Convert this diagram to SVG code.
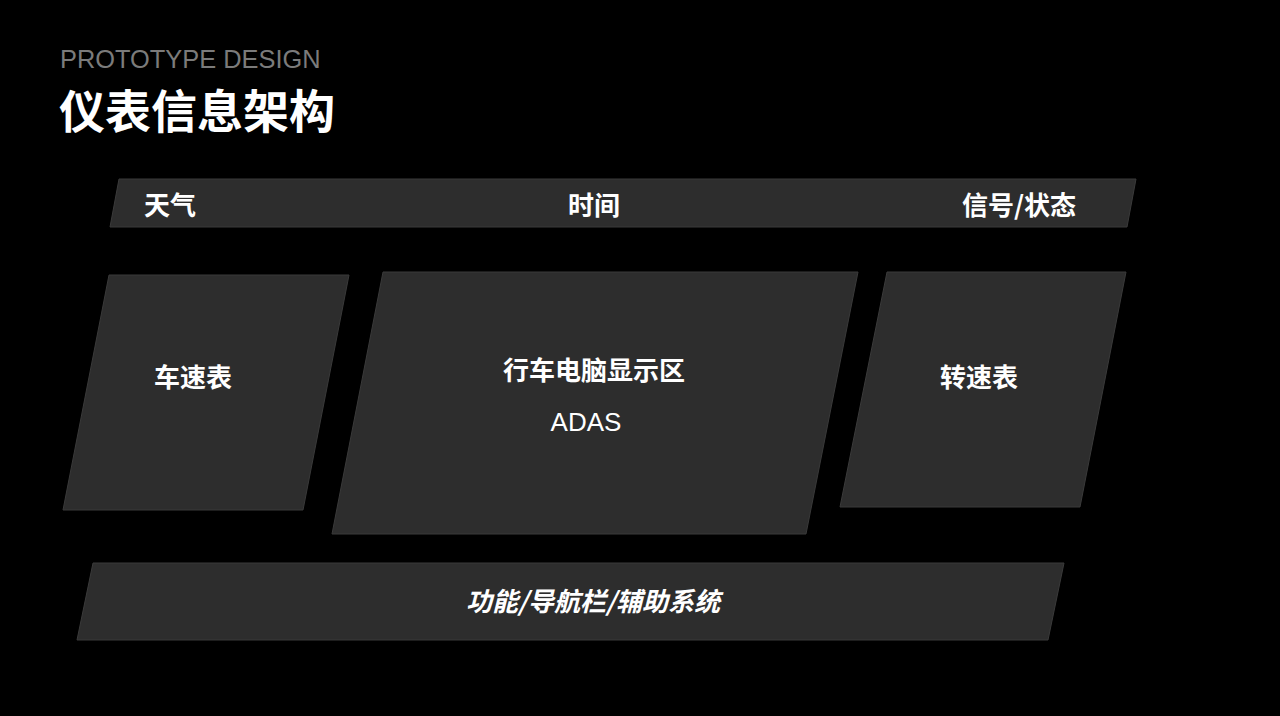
<svg xmlns="http://www.w3.org/2000/svg" width="1280" height="716" viewBox="0 0 1280 716">
<style>
.box{fill:#2d2d2d;stroke:#3a3a3a;stroke-width:1}
.lbl{fill:#ffffff;font-family:"Noto Sans CJK SC","Liberation Sans",sans-serif;font-size:26px;font-weight:600;text-anchor:middle}
.en{font-family:"Liberation Sans","Noto Sans CJK SC",sans-serif;font-weight:normal}
</style>
<rect width="1280" height="716" fill="#000000"/>
<g id="header">
<text x="60" y="68" fill="#7b7b7b" font-family="Liberation Sans, Arial, sans-serif" font-size="25.4">PROTOTYPE DESIGN</text>
<text x="59" y="128" fill="#ffffff" font-family="Noto Sans CJK SC, sans-serif" font-size="46" font-weight="bold">仪表信息架构</text>
</g>
<g id="top-bar">
<polygon class="box" points="119,179 1136,179 1127,227 110,227"/>
<text class="lbl" x="170" y="215">天气</text>
<text class="lbl" x="594" y="215">时间</text>
<text class="lbl" x="1019" y="215">信号/状态</text>
</g>
<g id="speedometer">
<polygon class="box" points="109,275 349,275 303,510 63,510"/>
<text class="lbl" x="193" y="387">车速表</text>
</g>
<g id="trip-computer">
<polygon class="box" points="383,272 858,272 806,534 332,534"/>
<text class="lbl" x="594" y="380">行车电脑显示区</text>
<text class="lbl en" x="586" y="431">ADAS</text>
</g>
<g id="tachometer">
<polygon class="box" points="887,272 1126,272 1080,507 840,507"/>
<text class="lbl" x="979" y="387">转速表</text>
</g>
<g id="bottom-bar">
<polygon class="box" points="93,563 1064,563 1048,640 77,640"/>
<text class="lbl" x="593" y="611" font-style="italic">功能/导航栏/辅助系统</text>
</g>
<g id="connectors"></g>
</svg>
